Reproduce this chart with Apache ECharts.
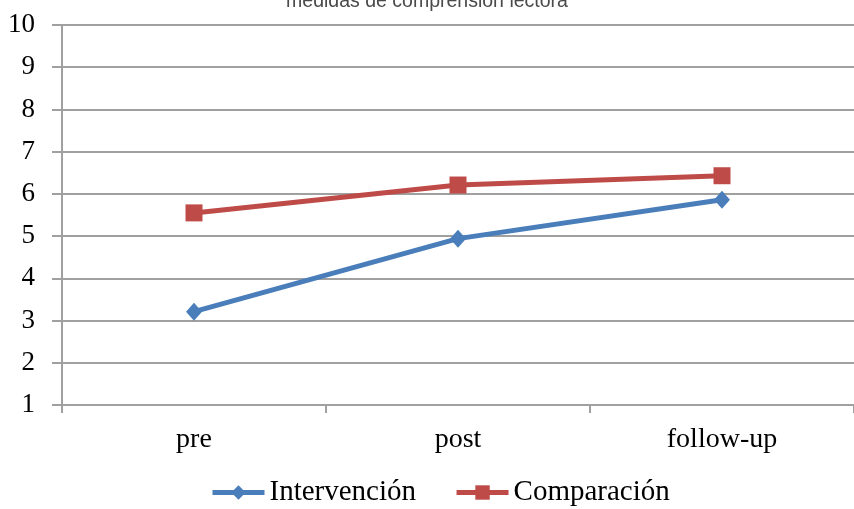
<!DOCTYPE html>
<html>
<head>
<meta charset="utf-8">
<script src="https://cdn.jsdelivr.net/npm/echarts@6/dist/echarts.min.js"></script>
<style>html,body{margin:0;padding:0;background:#fff;}#c{width:854px;height:509px;}</style>
</head>
<body>
<div id="c"></div>
<script>
const titleText = 'medidas de comprensión lectora';
const categories = ['pre', 'post', 'follow-up'];
const seriesNames = ['Intervención', 'Comparación'];
const intervencion = [3.21, 4.94, 5.86];
const comparacion = [5.55, 6.21, 6.43];
const yTicks = {min: 1, max: 10, interval: 1};

const chart = echarts.init(document.getElementById('c'), null, {renderer: 'canvas'});
const serif = '"Liberation Serif", "DejaVu Serif", serif';
const gridColor = '#A0A0A0';
chart.setOption({
  animation: false,
  backgroundColor: '#ffffff',
  title: {
    text: titleText,
    left: 'center',
    top: -13,
    textStyle: {fontFamily: '"Liberation Sans", Arial, sans-serif', fontSize: 19.5, fontWeight: 'normal', color: '#4a4a4a'}
  },
  grid: {left: 62, right: -4, top: 25, bottom: 104},
  legend: {
    data: seriesNames,
    bottom: -3,
    left: 205,
    itemWidth: 52,
    itemHeight: 18,
    itemGap: 38,
    lineStyle: {width: 5},
    textStyle: {fontFamily: serif, fontSize: 29, color: '#000'}
  },
  xAxis: {
    type: 'category',
    data: categories,
    boundaryGap: true,
    axisLine: {lineStyle: {color: gridColor, width: 2}},
    axisTick: {show: true, length: 8, lineStyle: {color: gridColor, width: 2}},
    axisLabel: {fontFamily: serif, fontSize: 28, color: '#000', margin: 21}
  },
  yAxis: {
    type: 'value',
    min: yTicks.min,
    max: yTicks.max,
    interval: yTicks.interval,
    axisLine: {show: true, lineStyle: {color: gridColor, width: 2}},
    axisTick: {show: true, length: 10, lineStyle: {color: gridColor, width: 2}},
    splitLine: {lineStyle: {color: gridColor, width: 2}},
    axisLabel: {fontFamily: serif, fontSize: 27, color: '#000', margin: 27}
  },
  series: [
    {
      name: seriesNames[0],
      type: 'line',
      data: intervencion,
      symbol: 'diamond',
      symbolSize: [16, 18],
      lineStyle: {color: '#4A7EBB', width: 5},
      itemStyle: {color: '#4A7EBB'}
    },
    {
      name: seriesNames[1],
      type: 'line',
      data: comparacion,
      symbol: 'rect',
      symbolSize: 17,
      lineStyle: {color: '#BE4B48', width: 5},
      itemStyle: {color: '#BE4B48'}
    }
  ]
});
</script>
</body>
</html>
